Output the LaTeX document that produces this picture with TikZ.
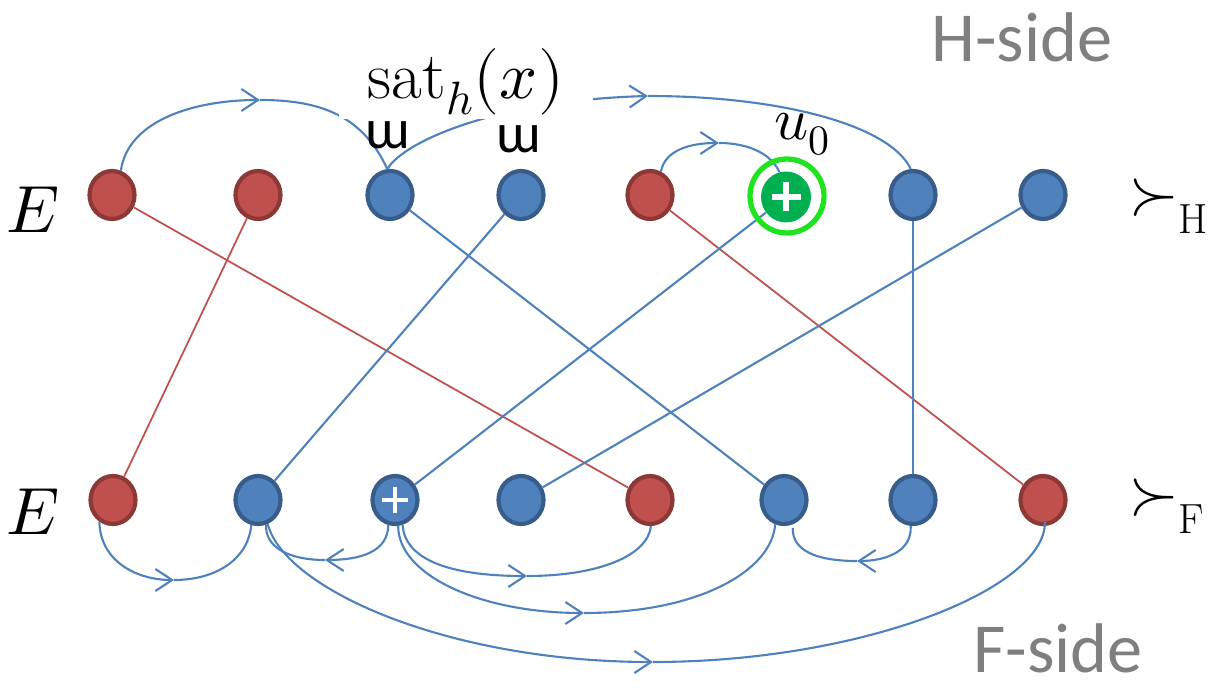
\documentclass[tikz,border=0pt]{standalone}
\usepackage{fontspec}
\usepackage{unicode-math}
\setmathfont{Latin Modern Math}
\newfontfamily\calib{Carlito}
\usetikzlibrary{shapes.geometric,arrows.meta}
\definecolor{redf}{RGB}{192,80,77}
\definecolor{redb}{RGB}{140,56,54}
\definecolor{bluef}{RGB}{79,129,189}
\definecolor{blueb}{RGB}{56,93,138}
\definecolor{lblue}{RGB}{79,129,189}
\definecolor{lred}{RGB}{192,80,77}
\definecolor{grnf}{RGB}{0,176,80}
\definecolor{ringc}{RGB}{30,228,30}
\definecolor{sidegray}{RGB}{127,127,127}
\begin{document}
\begin{tikzpicture}[x=0.02cm,y=-0.02cm,
  rednode/.style={ellipse,draw=redb,fill=redf,line width=2.4pt,minimum width=0.9cm,minimum height=0.96cm,inner sep=0pt},
  bluenode/.style={ellipse,draw=blueb,fill=bluef,line width=2.4pt,minimum width=0.9cm,minimum height=0.96cm,inner sep=0pt},
  greennode/.style={ellipse,fill=grnf,minimum width=1.0cm,minimum height=1.02cm,inner sep=0pt},
  ringnode/.style={circle,draw=ringc,line width=3pt,minimum size=1.48cm,inner sep=0pt},
  bline/.style={draw=lblue,line width=1.2pt},
  rline/.style={draw=lred,line width=1pt},
  arr/.style={bline,-{Straight Barb[length=9.5pt,width=12.5pt]}},
  plusmark/.style={draw=white,line width=2.6pt},
  bigtxt/.style={inner sep=0pt,font=\fontsize{38}{44}\selectfont},
  sidetxt/.style={inner sep=0pt,text=sidegray,font=\calib\fontsize{40}{48}\selectfont},
  cupsym/.style={inner sep=0pt,anchor=base,font=\calib\fontsize{32}{36}\selectfont}
]
\useasboundingbox (0,0) rectangle (1213,688);

% nodes top row
\node[rednode]  (t1) at (112,195) {};
\node[rednode]  (t2) at (258,195) {};
\node[bluenode] (t3) at (390,195) {};
\node[bluenode] (t4) at (521,195) {};
\node[rednode]  (t5) at (650,195) {};
\node[greennode](t6) at (786,197) {};
\node[bluenode] (t7) at (913,195) {};
\node[bluenode] (t8) at (1043,195) {};
% nodes bottom row
\node[rednode]  (b1) at (113,500) {};
\node[bluenode] (b2) at (258,500) {};
\node[bluenode] (b3) at (395,500) {};
\node[bluenode] (b4) at (521,500) {};
\node[rednode]  (b5) at (650,500) {};
\node[bluenode] (b6) at (784,500) {};
\node[bluenode] (b7) at (913,500) {};
\node[rednode]  (b8) at (1043,500) {};

% plus marks
\draw[plusmark] ([xshift=-0.26cm]b3.center) -- ([xshift=0.26cm]b3.center);
\draw[plusmark] ([yshift=-0.26cm]b3.center) -- ([yshift=0.26cm]b3.center);
\draw[plusmark,line width=2.9pt] ([xshift=-0.29cm]t6.center) -- ([xshift=0.29cm]t6.center);
\draw[plusmark,line width=2.9pt] ([yshift=-0.29cm]t6.center) -- ([yshift=0.29cm]t6.center);

% straight edges
\draw[rline] (t1) -- (b5);
\draw[rline] (t2) -- (b1);
\draw[rline] (t5) -- (b8);
\draw[bline] (t3) -- (b6);
\draw[bline] (t4) -- (b2);
\draw[bline] (t6) -- (b3);
\draw[bline] (t7) -- (b7);
\draw[bline] (t8) -- (b4);

% top arcs
\coordinate (pA1) at (260,100);
\draw[arr] (t1.70) .. controls (128,120) and (195,100) .. (pA1);
\draw[bline] (pA1) .. controls (318,100) and (362,114) .. (t3.96);
\coordinate (pA2) at (648,96);
\draw[arr] (t3.96) .. controls (405,140) and (500,100) .. (pA2);
\draw[bline] (pA2) .. controls (780,96) and (890,125) .. (t7.95);
\coordinate (pA3) at (719,143);
\draw[arr] (t5.65) .. controls (665,150) and (690,143) .. (pA3);
\draw[bline] (pA3) .. controls (750,143) and (772,155) .. (t6.105);

% bottom arcs
\coordinate (pa) at (174,580);
\draw[arr] (b1.238) .. controls (100,560) and (135,580) .. (pa);
\draw[bline] (pa) .. controls (215,580) and (248,560) .. (b2.255);
\coordinate (pb) at (325,560);
\draw[arr] (b3.255) .. controls (388,552) and (360,560) .. (pb);
\draw[bline] (pb) .. controls (290,560) and (265,548) .. (b2.288);
\coordinate (pc) at (527,576);
\draw[arr] (b3.287) .. controls (405,560) and (450,576) .. (pc);
\draw[bline] (pc) .. controls (600,576) and (648,555) .. (b5.272);
\coordinate (pd) at (584,613);
\draw[arr] (b3.277) .. controls (398,575) and (480,613) .. (pd);
\draw[bline] (pd) .. controls (700,613) and (772,570) .. (b6.250);
\coordinate (pe) at (653,662);
\coordinate (eend) at ([xshift=0.04cm,yshift=0.08cm]b8.south);
\draw[arr] (b2.292) .. controls (285,590) and (450,662) .. (pe);
\draw[bline] (pe) .. controls (860,662) and (1045,590) .. (eend);
\coordinate (pf) at (857,561);
\draw[arr] (b7.265) .. controls (912,552) and (885,561) .. (pf);
\draw[bline,shorten >=2pt] (pf) .. controls (815,561) and (792,550) .. (b6.290);

% ring around u0
\node[ringnode] (ring) at (787,196) {};

% labels
\node[fill=white,minimum width=5.1cm,minimum height=1.48cm,inner sep=0pt,font=\fontsize{38}{44}\selectfont] (sat) at (466,82) {$\mathrm{sat}_h(x)$};
\node[cupsym] (c1) at (388,149) {ɯ};
\node[cupsym] (c2) at (519,153) {ɯ};
\node[inner sep=0pt,anchor=base west,font=\fontsize{34}{40}\selectfont] (u0) at (774,140) {$u_0$};
\node[bigtxt,anchor=base] (e1) at (33,233) {$E$};
\node[bigtxt,anchor=base] (e2) at (33,535) {$E$};
\node[inner sep=0pt,anchor=base west] (sh) at (1129,214) {{\fontsize{36}{40}\selectfont$\succ$}\raisebox{-11pt}{\fontsize{24}{28}\selectfont H}};
\node[inner sep=0pt,anchor=base west] (sf) at (1129,514) {{\fontsize{36}{40}\selectfont$\succ$}\raisebox{-11pt}{\fontsize{24}{28}\selectfont F}};
\node[sidetxt,anchor=base] (hs) at (1022,62) {H-side};
\node[sidetxt,anchor=base] (fs) at (1058,672) {F-side};
\end{tikzpicture}
\end{document}
